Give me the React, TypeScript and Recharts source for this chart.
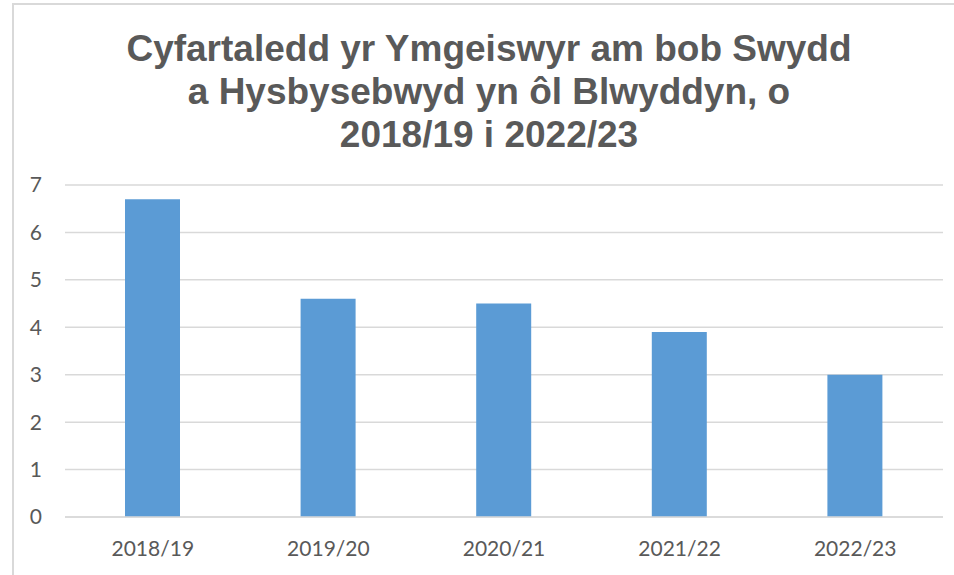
import { BarChart, Bar, XAxis, YAxis, CartesianGrid } from 'recharts';

const years = ['2018/19', '2019/20', '2020/21', '2021/22', '2022/23'];
const applicantsPerPost = [6.7, 4.6, 4.5, 3.9, 3.0];
const yTicks = [0, 1, 2, 3, 4, 5, 6, 7];

const titleLines = [
  'Cyfartaledd yr Ymgeiswyr am bob Swydd',
  'a Hysbysebwyd yn ôl Blwyddyn, o',
  '2018/19 i 2022/23',
];

const chartData = years.map((year, i) => ({ year, value: applicantsPerPost[i] }));

const tickStyle = { fill: '#595959', fontSize: 21, fontFamily: 'Lato, sans-serif' };

export default function App() {
  return (
    <div
      style={{
        position: 'fixed',
        left: 0,
        top: 0,
        width: 954,
        height: 575,
        overflow: 'hidden',
        background: '#fff',
      }}
    >
      {/* chart frame, runs off the right and bottom of the picture */}
      <div
        style={{
          position: 'absolute',
          left: 12,
          top: 3,
          width: 1100,
          height: 700,
          border: '2px solid #D9D9D9',
          boxSizing: 'border-box',
        }}
      />
      <div
        style={{
          position: 'absolute',
          left: 0,
          top: 27,
          width: 978,
          textAlign: 'center',
          fontFamily: '"Liberation Sans", Arial, sans-serif',
          fontWeight: 'bold',
          fontSize: 37,
          lineHeight: '43px',
          color: '#595959',
        }}
      >
        {titleLines.map(line => (
          <div key={line}>{line}</div>
        ))}
      </div>
      <div style={{ position: 'absolute', left: 0, top: 0 }}>
        <BarChart
          width={954}
          height={575}
          data={chartData}
          margin={{ top: 185, right: 11, bottom: 18, left: 0 }}
        >
          <CartesianGrid vertical={false} stroke="#D9D9D9" strokeWidth={1.5} />
          <XAxis
            dataKey="year"
            height={40}
            axisLine={{ stroke: '#D9D9D9', strokeWidth: 1.5 }}
            tickLine={false}
            tickSize={0}
            tickMargin={24}
            tick={tickStyle}
          />
          <YAxis
            width={65}
            domain={[0, 7]}
            ticks={yTicks}
            axisLine={false}
            tickLine={false}
            tickSize={0}
            tickMargin={23}
            tick={tickStyle}
          />
          <Bar dataKey="value" fill="#5B9BD5" barSize={55} isAnimationActive={false} />
        </BarChart>
      </div>
    </div>
  );
}
